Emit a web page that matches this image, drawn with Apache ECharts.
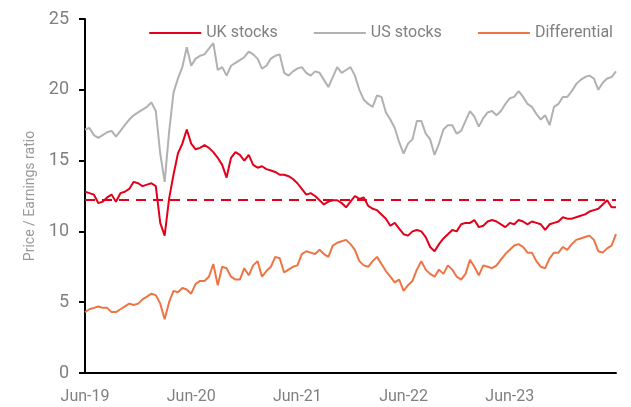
<!DOCTYPE html>
<html>
<head>
<meta charset="utf-8">
<script src="https://cdn.jsdelivr.net/npm/echarts@6/dist/echarts.min.js"></script>
<style>
  html, body { margin: 0; padding: 0; background: #fff; }
  #chart { width: 631px; height: 407px; }
</style>
</head>
<body>
<div id="chart"></div>
<script>
// semi-monthly readings, Jun-19 .. Jun-24
const startYear = 2019
const startMonth = 6
const pointCount = 121

const ukStocks = [
  12.8, 12.7, 12.6, 12.0, 12.1, 12.4, 12.6, 12.1, 12.7, 12.8, 13.0, 13.5,
  13.4, 13.2, 13.3, 13.4, 13.2, 10.6, 9.7, 12.3, 14.0, 15.5, 16.2, 17.2,
  16.2, 15.8, 15.9, 16.1, 15.9, 15.6, 15.2, 14.7, 13.8, 15.2, 15.6, 15.4,
  15.0, 15.4, 14.7, 14.5, 14.6, 14.4, 14.3, 14.2, 14.0, 14.0, 13.9, 13.7,
  13.4, 13.0, 12.6, 12.7, 12.5, 12.2, 11.9, 12.1, 12.2, 12.2, 12.0, 11.7,
  12.1, 12.5, 12.3, 12.4, 11.8, 11.6, 11.5, 11.2, 10.9, 10.4, 10.6, 10.2,
  9.8, 9.7, 10.0, 10.1, 10.0, 9.6, 8.9, 8.6, 9.1, 9.5, 9.8, 10.1,
  10.0, 10.5, 10.6, 10.6, 10.8, 10.3, 10.4, 10.7, 10.8, 10.7, 10.5, 10.3,
  10.6, 10.5, 10.8, 10.7, 10.5, 10.7, 10.6, 10.5, 10.1, 10.5, 10.6, 10.7,
  11.0, 10.9, 10.9, 11.0, 11.1, 11.2, 11.4, 11.5, 11.6, 11.9, 12.2, 11.7,
  11.7
]

const usStocks = [
  17.2, 17.3, 16.8, 16.6, 16.8, 17.0, 17.1, 16.7, 17.1, 17.5, 17.9, 18.2,
  18.4, 18.6, 18.8, 19.1, 18.5, 15.5, 13.5, 17.0, 19.8, 20.8, 21.6, 23.0,
  21.7, 22.2, 22.4, 22.5, 22.9, 23.3, 21.4, 21.6, 21.0, 21.7, 21.9, 22.1,
  22.3, 22.7, 22.5, 22.2, 21.5, 21.7, 22.2, 22.4, 22.5, 21.2, 21.0, 21.3,
  21.5, 21.6, 21.2, 21.0, 21.3, 21.2, 20.7, 20.2, 20.9, 21.6, 21.2, 21.4,
  21.6, 21.0, 20.0, 19.3, 19.0, 18.8, 19.6, 19.5, 18.4, 17.9, 17.3, 16.3,
  15.5, 16.2, 16.5, 17.8, 17.8, 16.9, 16.5, 15.4, 16.2, 17.2, 17.5, 17.5,
  16.9, 17.1, 17.8, 18.5, 18.1, 17.4, 18.0, 18.4, 18.5, 18.2, 18.5, 19.0,
  19.4, 19.5, 19.9, 19.5, 19.0, 18.8, 18.3, 17.9, 18.2, 17.5, 18.8, 19.0,
  19.5, 19.5, 19.9, 20.4, 20.7, 20.9, 21.0, 20.8, 20.0, 20.5, 20.8, 20.9,
  21.3
]

const differential = [
  4.3, 4.5, 4.6, 4.7, 4.6, 4.6, 4.3, 4.3, 4.5, 4.7, 4.9, 4.8,
  4.9, 5.2, 5.4, 5.6, 5.5, 4.9, 3.8, 5.0, 5.8, 5.7, 6.0, 5.9,
  5.6, 6.3, 6.5, 6.5, 6.8, 7.7, 6.2, 7.5, 7.4, 6.8, 6.6, 6.6,
  7.4, 6.9, 7.6, 7.9, 6.8, 7.2, 7.5, 8.2, 8.1, 7.1, 7.3, 7.5,
  7.6, 8.4, 8.6, 8.5, 8.4, 8.7, 8.4, 8.2, 9.0, 9.2, 9.3, 9.4,
  9.1, 8.7, 7.9, 7.6, 7.5, 7.9, 8.2, 7.7, 7.2, 6.8, 6.4, 6.6,
  5.8, 6.2, 6.5, 7.3, 7.9, 7.3, 7.0, 6.8, 7.3, 7.0, 7.6, 7.3,
  6.8, 6.6, 7.0, 8.0, 7.5, 6.9, 7.6, 7.5, 7.4, 7.6, 8.0, 8.4,
  8.7, 9.0, 9.1, 8.9, 8.5, 8.5, 7.9, 7.5, 7.4, 8.1, 8.5, 8.5,
  8.9, 8.7, 9.1, 9.4, 9.5, 9.6, 9.7, 9.4, 8.6, 8.5, 8.8, 9.0,
  9.8
]

// UK long-run average (dashed)
const ukAverage = 12.2

const seriesNames = ['UK stocks', 'US stocks', 'Differential']
const seriesColors = ['#e2001a', '#b1b1b1', '#ee7444']
const monthNames = ['Jan', 'Feb', 'Mar', 'Apr', 'May', 'Jun', 'Jul', 'Aug', 'Sep', 'Oct', 'Nov', 'Dec']

// category dates: 1st and 16th of each month
const dates = []
for (let i = 0; i < pointCount; i++) {
  const mIdx = startMonth - 1 + Math.floor(i / 2)
  const y = startYear + Math.floor(mIdx / 12)
  const m = (mIdx % 12) + 1
  const d = i % 2 === 0 ? '01' : '16'
  dates.push(`${y}-${String(m).padStart(2, '0')}-${d}`)
}

const chart = echarts.init(document.getElementById('chart'), null, { renderer: 'canvas' })

const font = 'Roboto, "Liberation Sans", sans-serif'
const labelGrey = '#808080'

const lineSeries = [ukStocks, usStocks, differential].map((values, i) => ({
  name: seriesNames[i],
  type: 'line',
  data: values,
  symbol: 'none',
  lineStyle: { width: 2, color: seriesColors[i] },
  itemStyle: { color: seriesColors[i] },
  z: i === 0 ? 4 : 3
}))

lineSeries[0].markLine = {
  silent: true,
  symbol: 'none',
  label: { show: false },
  lineStyle: { color: seriesColors[0], width: 2, type: [10, 7] },
  data: [{ yAxis: ukAverage }]
}

chart.setOption({
  animation: false,
  grid: { left: 85, right: 15, top: 19, bottom: 34 },
  legend: {
    data: seriesNames,
    top: 20,
    right: 13,
    icon: 'rect',
    itemWidth: 52,
    itemHeight: 2,
    itemGap: 36,
    textStyle: { fontSize: 16, color: labelGrey, fontFamily: font }
  },
  xAxis: {
    type: 'category',
    data: dates,
    boundaryGap: false,
    axisLine: { lineStyle: { color: '#000', width: 2 } },
    axisTick: { show: false },
    axisLabel: {
      interval: (idx, val) => val.endsWith('-06-01') && idx < dates.length - 1,
      formatter: val => monthNames[+val.slice(5, 7) - 1] + '-' + val.slice(2, 4),
      fontSize: 16,
      color: labelGrey,
      fontFamily: font,
      margin: 16
    },
    splitLine: { show: false }
  },
  yAxis: {
    type: 'value',
    min: 0,
    max: 25,
    interval: 5,
    name: 'Price / Earnings ratio',
    nameLocation: 'middle',
    nameGap: 37,
    nameTextStyle: { fontSize: 14, color: '#999', fontFamily: font },
    axisLine: { show: true, lineStyle: { color: '#000', width: 2 } },
    axisTick: { show: true, length: 6, lineStyle: { color: '#000', width: 2 } },
    axisLabel: { fontSize: 18, color: labelGrey, fontFamily: font, margin: 16 },
    splitLine: { show: false }
  },
  series: lineSeries
})
</script>
</body>
</html>
